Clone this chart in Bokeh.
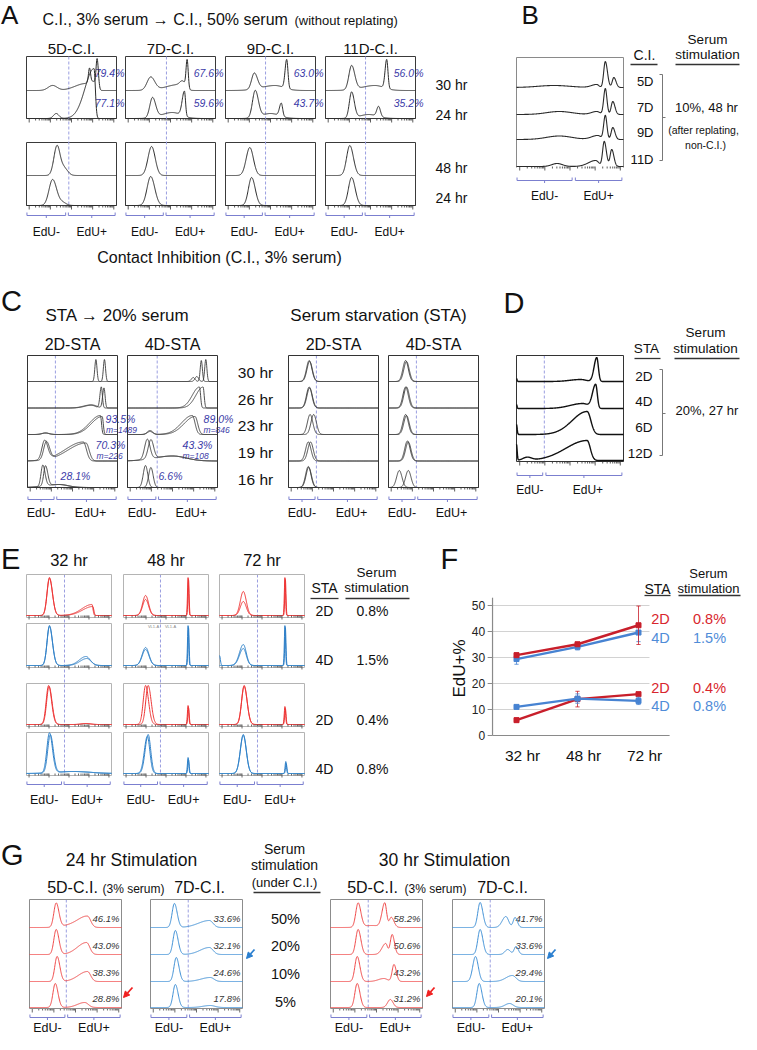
import numpy as np
from bokeh.plotting import figure
from bokeh.models import Range1d, Arrow, NormalHead
from bokeh.core.properties import value
from bokeh.embed import file_html
from bokeh.resources import INLINE

FONT = "Liberation Sans"

# ------------------------------------------------------------------ data
# histogram peaks: (position on EdU axis 0-1, height, left width, right width)
A_columns = ["5D-C.I.", "7D-C.I.", "9D-C.I.", "11D-C.I."]
A_rows_top = ["30 hr", "24 hr"]
A_rows_bottom = ["48 hr", "24 hr"]
A_pct_30hr = ["79.4%", "67.6%", "63.0%", "56.0%"]
A_pct_24hr = ["77.1%", "59.6%", "43.7%", "35.2%"]
A_50pct_30hr = [
    [(0.29, 5, 0.05, 0.05), (0.66, 7, 0.12, 0.03), (0.7, 16, 0.012, 0.012), (0.74, 9, 0.03, 0.03), (0.785, 29, 0.012, 0.014)],
    [(0.28, 13, 0.04, 0.045), (0.6, 6, 0.15, 0.05), (0.64, 5, 0.03, 0.03), (0.685, 28, 0.012, 0.012)],
    [(0.32, 16, 0.03, 0.035), (0.55, 5, 0.15, 0.1), (0.68, 29, 0.018, 0.014)],
    [(0.29, 24, 0.03, 0.035), (0.55, 5, 0.15, 0.1), (0.68, 29, 0.018, 0.014)],
]
A_50pct_24hr = [
    [(0.33, 5, 0.03, 0.03), (0.75, 50, 0.1, 0.015)],
    [(0.3, 20, 0.03, 0.035), (0.52, 6, 0.12, 0.1), (0.655, 25, 0.025, 0.012)],
    [(0.33, 27, 0.03, 0.035), (0.5, 5, 0.1, 0.1), (0.62, 13, 0.02, 0.015)],
    [(0.29, 26, 0.025, 0.03), (0.48, 4, 0.1, 0.1), (0.59, 10, 0.02, 0.02)],
]
A_3pct_48hr = [
    [(0.34, 30, 0.035, 0.035), (0.42, 7, 0.03, 0.04)],
    [(0.29, 29, 0.04, 0.04)],
    [(0.27, 28, 0.04, 0.04)],
    [(0.27, 30, 0.035, 0.04)],
]
A_3pct_24hr = [
    [(0.29, 26, 0.04, 0.045), (0.4, 3, 0.04, 0.04)],
    [(0.28, 29, 0.04, 0.045)],
    [(0.29, 28, 0.035, 0.04)],
    [(0.29, 28, 0.035, 0.04)],
]

B_rows = ["5D", "7D", "9D", "11D"]
B_hist = [
    [(0.35, 2, 0.15, 0.15), (0.75, 3, 0.05, 0.02), (0.83, 26, 0.015, 0.02), (0.91, 10, 0.015, 0.02)],
    [(0.4, 3, 0.12, 0.12), (0.75, 3, 0.05, 0.03), (0.83, 26, 0.015, 0.015), (0.9, 13, 0.015, 0.02)],
    [(0.4, 3.5, 0.12, 0.12), (0.76, 4, 0.06, 0.03), (0.83, 24, 0.015, 0.015), (0.9, 12, 0.015, 0.02)],
    [(0.38, 3, 0.05, 0.05), (0.74, 6, 0.07, 0.03), (0.82, 25, 0.015, 0.02), (0.89, 17, 0.015, 0.02)],
]

C_columns = ["2D-STA", "4D-STA", "2D-STA", "4D-STA"]
C_rows = ["30 hr", "26 hr", "23 hr", "19 hr", "16 hr"]
C_sta20_2D = [
    [[(0.76, 22, 0.012, 0.012)], [(0.855, 22, 0.012, 0.012)]],
    [[(0.7, 3, 0.08, 0.05), (0.82, 21, 0.015, 0.012)], [(0.72, 3, 0.08, 0.05), (0.85, 20, 0.015, 0.012)]],
    [[(0.2, 1.5, 0.04, 0.04), (0.81, 19, 0.12, 0.012)], [(0.2, 1.5, 0.04, 0.04), (0.83, 18, 0.12, 0.012)]],
    [[(0.19, 19, 0.03, 0.035), (0.62, 19, 0.2, 0.035)], [(0.21, 18, 0.03, 0.035), (0.65, 18, 0.2, 0.035)]],
    [[(0.17, 21, 0.02, 0.025), (0.35, 3, 0.15, 0.1)], [(0.2, 20, 0.02, 0.025), (0.35, 3, 0.15, 0.1)]],
]
C_sta20_4D = [
    [[(0.73, 4, 0.02, 0.02), (0.82, 21, 0.012, 0.012)], [(0.77, 5, 0.02, 0.02), (0.87, 22, 0.012, 0.012)]],
    [[(0.8, 21, 0.08, 0.012)], [(0.84, 21, 0.08, 0.012)]],
    [[(0.25, 4, 0.03, 0.03), (0.72, 19, 0.12, 0.03)], [(0.25, 3, 0.03, 0.03), (0.75, 18, 0.12, 0.03)]],
    [[(0.22, 20, 0.03, 0.03), (0.5, 5, 0.2, 0.15)], [(0.26, 19, 0.03, 0.03), (0.5, 5, 0.2, 0.15)]],
    [[(0.2, 22, 0.025, 0.025)], [(0.26, 20, 0.025, 0.025)]],
]
C_sta_2D = [
    [[(0.23, 21, 0.03, 0.03)], [(0.235, 20, 0.03, 0.03)]],
    [[(0.23, 21, 0.03, 0.03)], [(0.235, 20, 0.03, 0.03)]],
    [[(0.24, 20, 0.03, 0.03)], [(0.28, 20, 0.03, 0.03)]],
    [[(0.22, 19, 0.03, 0.03)], [(0.245, 19, 0.03, 0.03)]],
    [[(0.22, 21, 0.03, 0.03)], [(0.225, 20, 0.03, 0.03)]],
]
C_sta_4D = [
    [[(0.19, 21, 0.03, 0.03)], [(0.2, 20, 0.03, 0.03)]],
    [[(0.19, 21, 0.03, 0.03)], [(0.2, 21, 0.03, 0.03)]],
    [[(0.19, 20, 0.03, 0.03)], [(0.2, 19, 0.03, 0.03)]],
    [[(0.21, 20, 0.03, 0.03)], [(0.22, 19, 0.03, 0.03)]],
    [[(0.12, 17, 0.03, 0.03)], [(0.22, 17, 0.03, 0.03)]],
]
C_notes_2D = ["93.5%", "m=1489", "70.3%", "m=226", "28.1%"]
C_notes_4D = ["89.0%", "m=846", "43.3%", "m=108", "6.6%"]

D_rows = ["2D", "4D", "6D", "12D"]
D_hist = [
    [(0.0, 3, 0.005, 0.005), (0.6, 2, 0.1, 0.05), (0.75, 24, 0.025, 0.015)],
    [(0.0, 4, 0.005, 0.005), (0.62, 5, 0.12, 0.05), (0.74, 24, 0.03, 0.015)],
    [(0.0, 10, 0.004, 0.006), (0.66, 23, 0.14, 0.035)],
    [(0.0, 16, 0.004, 0.006), (0.1, 3, 0.04, 0.04), (0.66, 20, 0.2, 0.03)],
]

E_times = ["32 hr", "48 hr", "72 hr"]
E_sta = ["2D", "4D", "2D", "4D"]
E_serum = ["0.8%", "1.5%", "0.4%", "0.8%"]
E_hist = [
    [[[(0.27, 38, 0.028, 0.035), (0.77, 11, 0.12, 0.012)], [(0.27, 37, 0.028, 0.035), (0.78, 9, 0.12, 0.012)]],
     [[(0.26, 20, 0.035, 0.035), (0.76, 38, 0.007, 0.007)], [(0.26, 16, 0.035, 0.035), (0.765, 36, 0.007, 0.007)]],
     [[(0.28, 24, 0.035, 0.035), (0.77, 38, 0.007, 0.007)], [(0.28, 14, 0.035, 0.035), (0.775, 36, 0.007, 0.007)]]],
    [[[(0.27, 40, 0.028, 0.035), (0.7, 9, 0.08, 0.05)], [(0.27, 39, 0.028, 0.035), (0.71, 7, 0.08, 0.05)]],
     [[(0.26, 18, 0.04, 0.04), (0.76, 40, 0.007, 0.007)], [(0.26, 16, 0.04, 0.04), (0.765, 38, 0.007, 0.007)]],
     [[(0.0, 10, 0.004, 0.01), (0.28, 21, 0.045, 0.035), (0.77, 40, 0.007, 0.007)], [(0.28, 17, 0.045, 0.035), (0.775, 38, 0.007, 0.007)]]],
    [[[(0.26, 39, 0.028, 0.035), (0.7, 1, 0.05, 0.05)], [(0.265, 38, 0.028, 0.035), (0.7, 1, 0.05, 0.05)]],
     [[(0.26, 39, 0.028, 0.035), (0.76, 19, 0.008, 0.008)], [(0.29, 39, 0.028, 0.035), (0.765, 17, 0.008, 0.008)]],
     [[(0.29, 39, 0.03, 0.035), (0.77, 18, 0.008, 0.008)], [(0.29, 38, 0.03, 0.035), (0.775, 16, 0.008, 0.008)]]],
    [[[(0.27, 40, 0.03, 0.035), (0.55, 2, 0.2, 0.2)], [(0.28, 38, 0.03, 0.035), (0.55, 2, 0.2, 0.2)]],
     [[(0.29, 39, 0.035, 0.03), (0.76, 16, 0.008, 0.008)], [(0.28, 37, 0.035, 0.03), (0.765, 14, 0.008, 0.008)]],
     [[(0.28, 39, 0.035, 0.035), (0.78, 12, 0.008, 0.008)], [(0.28, 38, 0.035, 0.035), (0.785, 10, 0.008, 0.008)]]],
]

F_times = ["32 hr", "48 hr", "72 hr"]
F_yticks = [0, 10, 20, 30, 40, 50]
F_2D_08 = [30.9, 35.1, 42.4]
F_2D_08_err = [0.8, 0.7, 7.4]
F_4D_15 = [29.4, 34.1, 39.6]
F_4D_15_err = [2.0, 1.2, 3.5]
F_2D_04 = [5.9, 14.0, 15.9]
F_2D_04_err = [0.8, 3.0, 0.4]
F_4D_08 = [11.0, 14.2, 13.3]
F_4D_08_err = [0.4, 1.8, 1.4]
F_sta = ["2D", "4D", "2D", "4D"]
F_serum = ["0.8%", "1.5%", "0.4%", "0.8%"]

G_serum = ["50%", "20%", "10%", "5%"]
G_pct = [["46.1%", "43.0%", "38.3%", "28.8%"],
         ["33.6%", "32.1%", "24.6%", "17.8%"],
         ["58.2%", "50.6%", "43.2%", "31.2%"],
         ["41.7%", "33.6%", "29.4%", "20.1%"]]
G_hist = [
    [[(0.29, 24, 0.025, 0.03), (0.45, 2, 0.1, 0.1), (0.63, 11, 0.1, 0.035)],
     [(0.29, 25, 0.025, 0.03), (0.62, 12, 0.1, 0.035)],
     [(0.3, 25, 0.025, 0.03), (0.63, 10, 0.1, 0.035)],
     [(0.28, 24, 0.025, 0.03), (0.6, 5, 0.08, 0.04)]],
    [[(0.26, 24, 0.025, 0.03), (0.64, 7, 0.12, 0.04)],
     [(0.27, 24, 0.025, 0.03), (0.64, 7, 0.1, 0.04)],
     [(0.28, 24, 0.025, 0.03), (0.65, 4, 0.1, 0.04)],
     [(0.27, 23, 0.025, 0.03), (0.65, 2, 0.08, 0.05)]],
    [[(0.3, 24, 0.025, 0.03), (0.45, 2, 0.1, 0.1), (0.59, 24, 0.03, 0.02), (0.66, 10, 0.02, 0.03)],
     [(0.3, 25, 0.025, 0.03), (0.6, 11, 0.04, 0.02), (0.67, 20, 0.02, 0.025)],
     [(0.29, 25, 0.025, 0.03), (0.58, 3, 0.06, 0.04), (0.69, 17, 0.02, 0.025)],
     [(0.29, 24, 0.025, 0.03), (0.65, 8, 0.03, 0.03)]],
    [[(0.3, 25, 0.025, 0.03), (0.58, 11, 0.04, 0.03), (0.68, 10, 0.02, 0.025)],
     [(0.3, 25, 0.025, 0.03), (0.6, 5, 0.03, 0.03), (0.69, 8, 0.02, 0.025)],
     [(0.25, 25, 0.03, 0.03), (0.65, 6, 0.07, 0.04)],
     [(0.29, 24, 0.025, 0.03), (0.62, 4, 0.05, 0.04)]],
]

# ------------------------------------------------------------------ canvas
W, H = 741, 1034
p = figure(width=W, height=H, x_range=Range1d(8, 8 + W), y_range=Range1d(8 + H, 8),
           x_axis_type=None, y_axis_type=None, output_backend="svg",
           toolbar_location=None, min_border=0)
p.outline_line_color = None
p.background_fill_color = "white"
p.border_fill_color = "white"

lines = {}


def add_line(xs, ys, color="#222222", width=1.0, dash="solid"):
    key = (color, width, dash)
    lines.setdefault(key, ([], []))
    lines[key][0].append([float(v) for v in xs])
    lines[key][1].append([float(v) for v in ys])


def txt(x, y, s, size=15, align="center", color="#111111", style="normal",
        angle=0.0, xr="default", yr="default"):
    p.text(x=[x], y=[y], text=[s], text_font=value(FONT), text_font_size=f"{size}px",
           text_align=align, text_baseline="middle", text_color=color, text_font_style=style,
           angle=angle, x_range_name=xr, y_range_name=yr)


def hist(x0, w, base, peaks, color, width=1.0, n=400):
    t = np.linspace(0, 1, n)
    y = np.zeros(n)
    for mu, h, sl, sr in peaks:
        s = np.where(t < mu, sl, sr)
        y += h * np.exp(-0.5 * ((t - mu) / s) ** 2)
    add_line(x0 + t * w, base - y, color, width)


def frame(x0, w, top, bottom, color, width=1.0):
    add_line([x0, x0 + w, x0 + w, x0, x0], [top, top, bottom, bottom, top], color, width)


def log_ticks(x0, w, ybot, color="#333333"):
    step = 0.235
    for k in range(4):
        d0 = 0.03 + k * step
        for m in range(1, 10):
            f = d0 + step * np.log10(m)
            L = 4 if m == 1 else 2
            add_line([x0 + f * w] * 2, [ybot, ybot + L], color, 0.8)
    f = 0.03 + 4 * step
    add_line([x0 + f * w] * 2, [ybot, ybot + 4], color, 0.8)


BR = "#7b7fcf"


def brackets(x0, w, div, yb, ylab, size=12, lab_shift=(0, 0)):
    for (a, b), lab, sh in (((0.005, div - 0.015), "EdU-", lab_shift[0]),
                            ((div + 0.015, 0.985), "EdU+", lab_shift[1])):
        xa, xb = x0 + a * w, x0 + b * w
        add_line([xa, xa, xb, xb], [yb - 3, yb, yb, yb - 3], BR, 1.0)
        xm = (xa + xb) / 2
        add_line([xm, xm], [yb, yb + 2.5], BR, 1.0)
        txt(xm + sh, ylab, lab, size)


def dashed(x, y0, y1, color="#9a9ee0"):
    add_line([x, x], [y0, y1], color, 1.0, "3 2")


def letter(x, y, s, size=29):
    txt(x, y, s, size, "left", "#111111")


# ------------------------------------------------------------------ panel A
letter(8.5, 22, "A", 26)
txt(50, 27, "C.I., 3% serum \u2192 C.I., 50% serum", 16, "left")
txt(302, 28, "(without replating)", 13, "left")
A_x = [34, 133, 233, 333]
A_w = 90
A_div = [0.47, 0.455, 0.445, 0.445]
for i, x0 in enumerate(A_x):
    txt(x0 + A_w / 2, 56, A_columns[i], 15)
    frame(x0, A_w, 64, 126, "#3a3a3a")
    frame(x0, A_w, 150, 213, "#3a3a3a")
    dashed(x0 + A_div[i] * A_w, 64, 213)
    hist(x0, A_w, 98, A_50pct_30hr[i], "#2b2b2b")
    hist(x0, A_w, 126, A_50pct_24hr[i], "#2b2b2b")
    hist(x0, A_w, 183, A_3pct_48hr[i], "#2b2b2b")
    hist(x0, A_w, 213, A_3pct_24hr[i], "#2b2b2b")
    log_ticks(x0, A_w, 126)
    log_ticks(x0, A_w, 213)
    txt(x0 + A_w + 8, 80, A_pct_30hr[i], 10.5, "right", "#3b3ba8", "italic")
    txt(x0 + A_w + 8, 110, A_pct_24hr[i], 10.5, "right", "#3b3ba8", "italic")
    brackets(x0, A_w, A_div[i] - 0.02, 223, 239, 12)
for lab, y in zip(A_rows_top + A_rows_bottom, [92, 122, 175, 205]):
    txt(443, y, lab, 14, "left")
txt(227, 265, "Contact Inhibition (C.I., 3% serum)", 16)

# ------------------------------------------------------------------ panel B
letter(529, 22, "B", 26)
B_x, B_w = 524, 107
add_line([B_x, B_x, B_x + B_w, B_x + B_w], [175, 65, 65, 175], "#8a8a8a")
for i, base in enumerate([95, 122, 147, 174]):
    hist(B_x, B_w, base, B_hist[i], "#2b2b2b", 1.1)
    txt(661, [89, 115, 140, 167][i], B_rows[i], 13, "right")
log_ticks(B_x, B_w, 174)
brackets(B_x, B_w, 0.535, 188, 203, 12)
txt(652, 62, "C.I.", 14)
add_line([638, 665], [72, 72], "#333333", 1.3)
txt(715, 47, "Serum", 13.5)
txt(715, 62, "stimulation", 13.5)
add_line([683, 747], [72, 72], "#333333", 1.3)
add_line([667, 670, 670, 667], [82, 82, 168, 168], "#777777", 1.0)
add_line([670, 673], [125, 125], "#777777", 1.0)
txt(714, 115, "10%, 48 hr", 13)
txt(711, 137, "(after replating,", 10.5)
txt(713, 152, "non-C.I.)", 10.5)

# ------------------------------------------------------------------ panel C
letter(8.5, 308, "C")
txt(125, 323, "STA \u2192 20% serum", 17)
txt(386, 323, "Serum starvation (STA)", 17)
C_x = [35, 135, 296, 396]
C_w = 90
C_div = [0.31, 0.33, 0.31, 0.31]
C_base = [389, 415.5, 442, 468.5, 495]
C_sets = [C_sta20_2D, C_sta20_4D, C_sta_2D, C_sta_4D]
for i, x0 in enumerate(C_x):
    txt(x0 + C_w / 2, 352, C_columns[i], 16)
    frame(x0, C_w, 363, 495, "#333333")
    dashed(x0 + C_div[i] * C_w, 363, 495)
    for r, base in enumerate(C_base):
        for cv in C_sets[i][r]:
            hist(x0, C_w, base, cv, "#3a3a3a", 0.9)
    log_ticks(x0, C_w, 495)
    brackets(x0, C_w, C_div[i], 507, 520, 12.5, (0, 4))
for lab, y in zip(C_rows, [380, 407, 433, 460, 487]):
    txt(263, y, lab, 15.5)
BLUE_T = "#3b3ba8"
for notes, pos in ((C_notes_2D, [(128, 426), (129, 437), (118, 452), (117, 463), (83, 483)]),
                   (C_notes_4D, [(226, 426), (224, 437), (205, 452), (203, 463), (178, 483)])):
    for s, (x, y) in zip(notes, pos):
        txt(x, y, s, 8.5 if s.startswith("m=") else 10.5, "center", BLUE_T, "italic")

# ------------------------------------------------------------------ panel D
letter(511, 310, "D")
D_x, D_w = 524, 107
frame(D_x, D_w, 363, 469, "#333333")
dashed(D_x + 0.26 * D_w, 363, 469)
for i, base in enumerate([389, 416, 442, 468]):
    hist(D_x, D_w, base, D_hist[i], "#111111", 1.4)
    txt(660, [384, 409, 435, 461][i], D_rows[i], 13.5, "right")
log_ticks(D_x, D_w, 469)
brackets(D_x, D_w, 0.26, 483, 497, 12, (0, 4))
txt(654, 356, "STA", 13.5)
add_line([642, 668], [366, 366], "#333333", 1.3)
txt(713, 340, "Serum", 13.5)
txt(713, 356, "stimulation", 13.5)
add_line([682, 747], [366, 366], "#333333", 1.3)
add_line([667, 670, 670, 667], [377, 377, 463, 463], "#777777", 1.0)
add_line([670, 673], [421, 421], "#777777", 1.0)
txt(683, 418, "20%, 27 hr", 13, "left")

# ------------------------------------------------------------------ panel E
letter(8.5, 566, "E")
E_x = [34, 131, 227]
E_w = 85
E_top = [582, 631, 691, 740]
E_bot = [625, 675, 734, 783]
E_div = [0.447, 0.435, 0.447]
E_col = ["#ee3535", "#2f80c8", "#ee3535", "#2f80c8"]
for c, x0 in enumerate(E_x):
    txt(x0 + E_w / 2, 567, E_times[c], 16.5)
    dashed(x0 + E_div[c] * E_w, 582, 783)
    for r in range(4):
        frame(x0, E_w, E_top[r], E_bot[r], "#b4b4b4", 1.0)
        for cv in E_hist[r][c]:
            hist(x0, E_w, E_bot[r] - 2, cv, E_col[r], 1.0)
        log_ticks(x0, E_w, E_bot[r] - 2, "#444444")
    brackets(x0, E_w, E_div[c] - 0.02, 792, 807, 12.5)
txt(161, 634, "VL1-A", 4, "center", "#888888")
txt(178, 634, "VL1-A", 4, "center", "#888888")
txt(332, 595, "STA", 14)
add_line([318, 346], [606, 606], "#333333", 1.3)
txt(384, 580, "Serum", 13.5)
txt(384, 595, "stimulation", 13.5)
add_line([353, 417], [606, 606], "#333333", 1.3)
for r, y in enumerate([618, 667, 727, 776]):
    txt(332, y, E_sta[r], 14)
    txt(380, y, E_serum[r], 14)

# ------------------------------------------------------------------ panel F (own scales)
letter(448, 566, "F")
FX0, FDX = 524.0, 61.0      # pixel of first category, spacing
FY0, FDY = 743.0, 2.6       # pixel of 0 %, pixels per %
p.extra_x_ranges = {"fx": Range1d((8 - FX0) / FDX, (8 + W - FX0) / FDX)}
p.extra_y_ranges = {"fy": Range1d((FY0 - (8 + H)) / FDY, (FY0 - 8) / FDY)}
xi = [0, 1, 2]
ax_left, ax_right, grid_right, ax_top = -0.393, 2.51, 2.18, 53.0
for v in F_yticks[1:]:
    p.line([ax_left, grid_right], [v, v], line_color="#d2d2d2", line_width=1.0,
           x_range_name="fx", y_range_name="fy")
p.line([ax_left, ax_left], [0, ax_top], line_color="#8a8a8a", line_width=1.2, x_range_name="fx", y_range_name="fy")
p.line([ax_left, ax_right], [0, 0], line_color="#8a8a8a", line_width=1.2, x_range_name="fx", y_range_name="fy")
for v in F_yticks:
    p.line([ax_left - 0.08, ax_left], [v, v], line_color="#8a8a8a", line_width=1.0, x_range_name="fx", y_range_name="fy")
    txt(ax_left - 0.12, v, str(v), 12, "right", "#222222", xr="fx", yr="fy")
for i, lab in enumerate(F_times):
    txt(i + 0.1, -7.5, lab, 15.5, "center", "#111111", xr="fx", yr="fy")
F_RED, F_BLUE = "#c81f2b", "#4783d2"
for vals, errs, col in ((F_4D_15, F_4D_15_err, F_BLUE), (F_2D_08, F_2D_08_err, F_RED),
                        (F_2D_04, F_2D_04_err, F_RED), (F_4D_08, F_4D_08_err, F_BLUE)):
    lo = [v - e for v, e in zip(vals, errs)]
    hi = [v + e for v, e in zip(vals, errs)]
    p.segment(xi, lo, xi, hi, line_color=col, line_width=1.0, line_alpha=0.8, x_range_name="fx", y_range_name="fy")
    p.segment([x - 0.035 for x in xi], lo, [x + 0.035 for x in xi], lo, line_color=col, line_width=1.0,
              line_alpha=0.8, x_range_name="fx", y_range_name="fy")
    p.segment([x - 0.035 for x in xi], hi, [x + 0.035 for x in xi], hi, line_color=col, line_width=1.0,
              line_alpha=0.8, x_range_name="fx", y_range_name="fy")
    p.line(xi, vals, line_color=col, line_width=2.4, x_range_name="fx", y_range_name="fy")
    p.scatter(xi, vals, marker="square", size=5, fill_color=col, line_color=col,
              x_range_name="fx", y_range_name="fy")
txt(467, 676, "EdU+%", 17, "center", "#111111", angle=np.pi / 2)
txt(665, 596, "STA", 14)
add_line([652, 678], [603, 603], "#333333", 1.3)
txt(716, 581, "Serum", 13)
txt(716, 596, "stimulation", 13)
add_line([686, 748], [603, 603], "#333333", 1.3)
L_RED, L_BLUE = "#d8262d", "#4f8cd8"
for k, y in enumerate([626, 645, 695, 713]):
    col = L_RED if k % 2 == 0 else L_BLUE
    txt(668, y, F_sta[k], 14.5, "center", col)
    txt(717, y, F_serum[k], 14.5, "center", col)

# ------------------------------------------------------------------ panel G
letter(8.5, 862, "G")
txt(139, 867, "24 hr Stimulation", 17.5)
txt(452, 867, "30 hr Stimulation", 17.5)
txt(292, 856, "Serum", 14)
txt(292, 872, "stimulation", 14)
txt(292, 890, "(under C.I.)", 13)
add_line([261, 328], [900, 900], "#333333", 1.3)
txt(80, 895, "5D-C.I.", 16)
txt(110, 896, "(3% serum)", 12, "left")
txt(207, 895, "7D-C.I.", 16)
txt(380, 895, "5D-C.I.", 16)
txt(412, 896, "(3% serum)", 12, "left")
txt(510, 895, "7D-C.I.", 16)
G_x = [37, 158, 338, 460]
G_w = 92
G_div = [0.40, 0.41, 0.41, 0.41]
G_base = [935, 962, 989, 1015]
G_bottom = 1016
G_col = ["#f04848", "#3d8fd6", "#f04848", "#3d8fd6"]
for b, x0 in enumerate(G_x):
    frame(x0, G_w, 907, G_bottom, "#8c8c8c")
    dashed(x0 + G_div[b] * G_w, 907, G_bottom)
    for r, base in enumerate(G_base):
        hist(x0, G_w, base, G_hist[b][r], G_col[b], 1.0)
        txt(x0 + G_w - 2, base - 9, G_pct[b][r], 9.5, "right", "#333333", "italic")
    log_ticks(x0, G_w, G_bottom, "#444444")
    brackets(x0, G_w, G_div[b], 1025, 1035, 12.5)
for r, y in enumerate([926, 953, 981, 1009]):
    txt(293, y, G_serum[r], 14.5)
for (xs, ys, xe, ye, col) in ((140, 995, 131, 1005, "#f02020"), (262, 957, 254, 966, "#2a7fd0"),
                              (442, 995, 434, 1004, "#f02020"), (563, 957, 555, 966, "#2a7fd0")):
    p.add_layout(Arrow(end=NormalHead(size=6, fill_color=col, line_color=col),
                       x_start=xs, y_start=ys, x_end=xe, y_end=ye, line_color=col, line_width=1.8))

# ------------------------------------------------------------------ draw collected lines
for (col, wd, dash), (xs, ys) in lines.items():
    p.multi_line(xs, ys, line_color=col, line_width=wd, line_dash=dash)

open("out.html", "w").write(file_html(p, INLINE))
